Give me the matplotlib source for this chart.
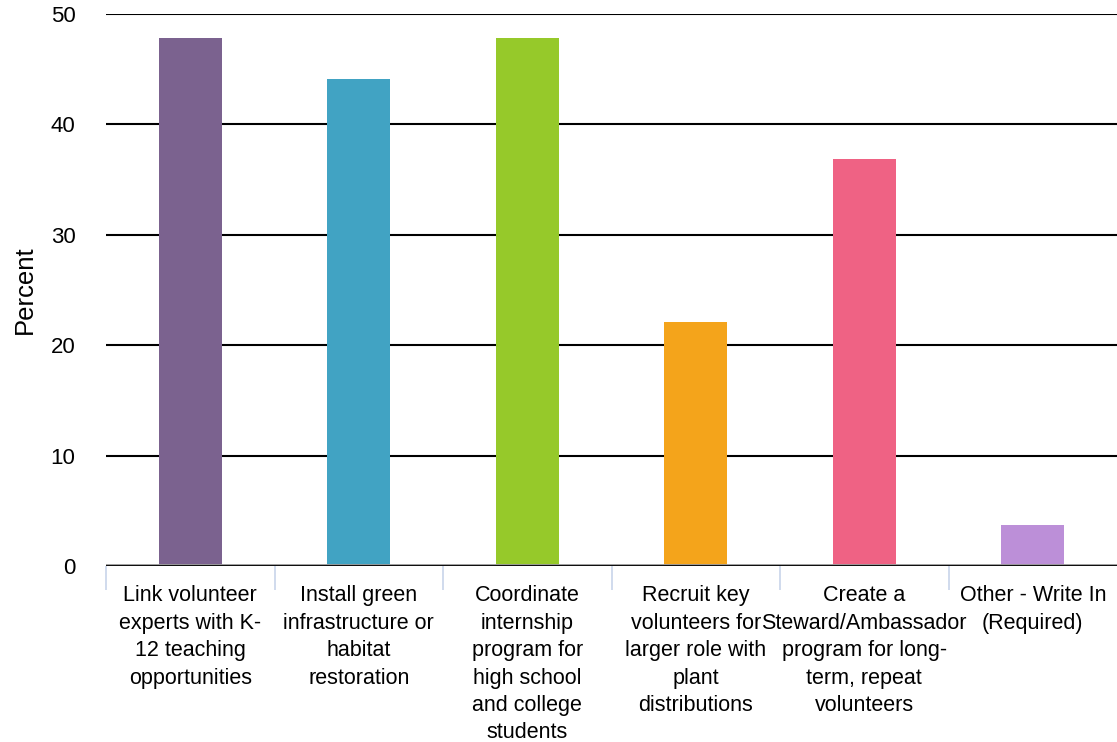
import matplotlib.pyplot as plt
import numpy as np

categories = [
    "Link volunteer\nexperts with K-\n12 teaching\nopportunities",
    "Install green\ninfrastructure or\nhabitat\nrestoration",
    "Coordinate\ninternship\nprogram for\nhigh school\nand college\nstudents",
    "Recruit key\nvolunteers for\nlarger role with\nplant\ndistributions",
    "Create a\nSteward/Ambassador\nprogram for long-\nterm, repeat\nvolunteers",
    "Other - Write In\n(Required)",
]
percent = [47.8, 44.1, 47.8, 22.1, 36.9, 3.7]
colors = ['#7B628F', '#41A3C3', '#96C92A', '#F4A41B', '#EF6284', '#BC8FD8']
yTicks = [0, 10, 20, 30, 40, 50]

plt.rcParams['font.family'] = ['Liberation Sans', 'DejaVu Sans']

fig = plt.figure(figsize=(11.17, 7.42), dpi=100)
ax = fig.add_axes([0.0949, 0.2372, 0.9051, 0.7439])

xPos = np.arange(len(categories))
ax.bar(xPos, percent, 0.375, color=colors, zorder=2)

# gridlines
for y in yTicks[1:]:
    ax.axhline(y, color='black', linewidth=1.5, zorder=1)
ax.axhline(0, color='#999999', linewidth=3.5, zorder=3)
ax.axhline(0, color='black', linewidth=2.0, zorder=4)

ax.set_xlim(-0.5, len(categories) - 0.5)
ax.set_ylim(0, 50)

for s in ax.spines.values():
    s.set_visible(False)

ax.set_yticks(yTicks)
ax.tick_params(axis='y', length=0, pad=22, labelsize=16)

ax.set_xticks(xPos)
ax.set_xticklabels(categories, fontsize=15.5, linespacing=1.4, va='top')
ax.tick_params(axis='x', which='major', length=0, pad=14)
ax.set_xticks(np.arange(-0.5, len(categories) - 0.5, 1.0), minor=True)
ax.tick_params(axis='x', which='minor', length=17, width=1.2, color='#C8D4EA')

ax.set_ylabel('Percent', fontsize=18.5, labelpad=10)

fig.savefig('out.png', dpi=100)
